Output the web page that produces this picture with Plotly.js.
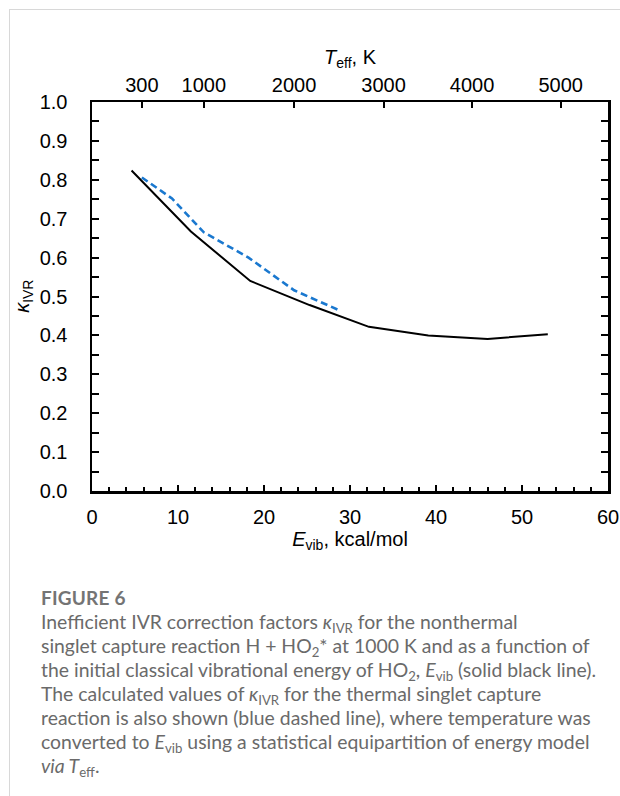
<!DOCTYPE html>
<html>
<head>
<meta charset="utf-8">
<script src="https://cdn.plot.ly/plotly-3.0.1.min.js"></script>
<style>
  html, body { margin: 0; padding: 0; background: #fff; }
  #wrap { position: relative; width: 620px; height: 796px; overflow: hidden; }
  #chart { position: absolute; left: 0; top: 0; width: 620px; height: 796px; }
  #frameTop { position: absolute; left: 9px; top: 9px; width: 611px; height: 0; border-top: 1px solid #d8d8d8; }
  #frameLeft { position: absolute; left: 9px; top: 9px; width: 0; height: 787px; border-left: 1px solid #d8d8d8; }
  #caption { position: absolute; left: 41px; top: 586px; width: 575px; font-family: Lato, "Open Sans", sans-serif; color: #6a6a6a; font-size: 19.4px; line-height: 24px; white-space: nowrap; }
  #caption .fig { font-weight: 700; font-size: 19px; color: #747474; letter-spacing: 0.2px; }
  #caption sub { font-size: 68%; line-height: 0; vertical-align: -0.3em; }
</style>
</head>
<body>
<div id="wrap">
  <div id="chart"></div>
  <div id="frameTop"></div>
  <div id="frameLeft"></div>
  <div id="caption">
    <div class="fig">FIGURE 6</div>
    <div>Inefficient IVR correction factors <i>κ</i><sub>IVR</sub> for the nonthermal</div>
    <div>singlet capture reaction H + HO<sub>2</sub>* at 1000 K and as a function of</div>
    <div>the initial classical vibrational energy of HO<sub>2</sub>, <i>E</i><sub>vib</sub> (solid black line).</div>
    <div>The calculated values of <i>κ</i><sub>IVR</sub> for the thermal singlet capture</div>
    <div>reaction is also shown (blue dashed line), where temperature was</div>
    <div>converted to <i>E</i><sub>vib</sub> using a statistical equipartition of energy model</div>
    <div><i>via T</i><sub>eff</sub>.</div>
  </div>
</div>
<script>
// Nonthermal (solid black) series: E_vib (kcal/mol) and kappa_IVR
const nonthermalEvib = [4.6, 11.5, 18.4, 25.3, 32.2, 39.1, 46.0, 53.0];
const nonthermalKappa = [0.824, 0.667, 0.540, 0.478, 0.422, 0.400, 0.391, 0.403];

// Thermal (blue dashed) series
const thermalEvib = [5.8, 9.3, 13.0, 18.2, 23.5, 28.6];
const thermalKappa = [0.806, 0.752, 0.665, 0.600, 0.516, 0.466];

// Top axis: T_eff tick labels and their E_vib positions
const teffTickLabels = ["300", "1000", "2000", "3000", "4000", "5000"];
const teffTickEvib = [5.8, 13.0, 23.5, 33.9, 44.2, 54.5];

const fontMain = "Liberation Sans, Arial, sans-serif";
const fs = 20;

const traces = [
  {
    x: nonthermalEvib, y: nonthermalKappa, type: "scatter", mode: "lines",
    line: { color: "#000000", width: 2 }, hoverinfo: "skip", showlegend: false
  },
  {
    x: thermalEvib, y: thermalKappa, type: "scatter", mode: "lines",
    line: { color: "#1a78cf", width: 2.6, dash: "7px,4px" }, hoverinfo: "skip", showlegend: false
  },
  {
    // invisible carrier so the top (T_eff) axis is drawn
    x: thermalEvib, y: thermalKappa, type: "scatter", mode: "lines",
    xaxis: "x2", yaxis: "y", opacity: 0,
    line: { color: "rgba(0,0,0,0)", width: 0 }, hoverinfo: "skip", showlegend: false
  }
];

const layout = {
  width: 620, height: 796,
  margin: { l: 92, r: 12, t: 102, b: 305, pad: 0 },
  paper_bgcolor: "rgba(0,0,0,0)", plot_bgcolor: "rgba(0,0,0,0)",
  font: { family: fontMain, size: fs, color: "#000" },
  showlegend: false,
  xaxis: {
    range: [0, 60], dtick: 10, tick0: 0,
    showgrid: false, zeroline: false,
    showline: true, linecolor: "#000", linewidth: 2.5, mirror: true,
    ticks: "inside", ticklen: 6, tickwidth: 2, tickcolor: "#000",
    minor: { dtick: 2, ticks: "inside", ticklen: 4, tickwidth: 2, tickcolor: "#000", showgrid: false },
    ticklabelstandoff: 6,
    tickfont: { family: fontMain, size: fs },
    title: { text: "<i>E</i><sub>vib</sub>, kcal/mol", font: { family: fontMain, size: fs }, standoff: 0 }
  },
  xaxis2: {
    overlaying: "x", side: "top", anchor: "y",
    range: [0, 60],
    tickmode: "array", tickvals: teffTickEvib, ticktext: teffTickLabels,
    showgrid: false, zeroline: false,
    showline: true, linecolor: "#000", linewidth: 2.5,
    ticks: "inside", ticklen: 6, tickwidth: 2, tickcolor: "#000",
    ticklabelstandoff: 0,
    tickfont: { family: fontMain, size: fs }
  },
  yaxis: {
    range: [0, 1], dtick: 0.1, tick0: 0, tickformat: ".1f",
    showgrid: false, zeroline: false,
    showline: true, linecolor: "#000", linewidth: 2.5, mirror: "ticks",
    ticks: "inside", ticklen: 7, tickwidth: 2, tickcolor: "#000",
    minor: { dtick: 0.05, ticks: "inside", ticklen: 7, tickwidth: 2, tickcolor: "#000", showgrid: false },
    ticklabelstandoff: 18,
    tickfont: { family: fontMain, size: fs }
  },
  annotations: [
    {
      text: "<i>T</i><sub>eff</sub>, K", xref: "paper", yref: "paper",
      x: 0.5, y: 1.113, xanchor: "center", yanchor: "middle", showarrow: false,
      font: { family: fontMain, size: fs, color: "#000" }
    },
    {
      text: "<i>κ</i><sub>IVR</sub>", xref: "paper", yref: "paper",
      x: -0.133, y: 0.5, xanchor: "center", yanchor: "middle", showarrow: false,
      textangle: -90,
      font: { family: fontMain, size: fs, color: "#000" }
    }
  ]
};

Plotly.newPlot("chart", traces, layout, { staticPlot: true, displayModeBar: false });
</script>
</body>
</html>
